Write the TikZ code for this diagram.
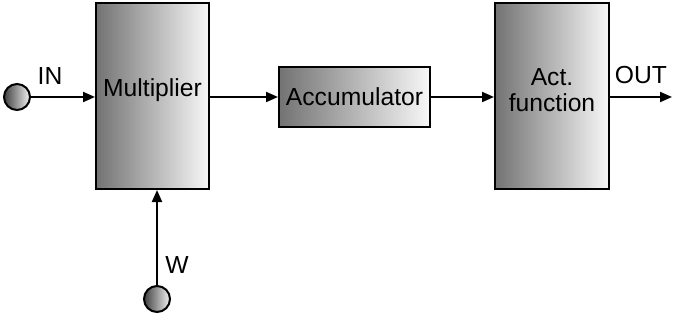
\documentclass[tikz,border=0pt]{standalone}
\usepackage{fontspec}
\setmainfont{Liberation Sans}
\usetikzlibrary{arrows.meta}
\tikzset{every picture/.style={line width=1.5pt}}
\begin{document}
\begin{tikzpicture}[x=0.75pt,y=0.75pt,yscale=-1,xscale=1,
  blk/.style={draw, left color=black!55, right color=black!3, inner sep=0pt, align=center, font=\fontsize{18.5}{20}\selectfont},
  port/.style={circle, draw, left color=black!75, right color=black!5, inner sep=0pt, minimum size=19.5pt},
  sig/.style={-{Triangle[length=9pt,width=7.5pt]}},
  lbl/.style={font=\fontsize{18.5}{20}\selectfont}]
\useasboundingbox (0,0) rectangle (673,320);

%Blocks
\node [blk, minimum width=84.75pt, minimum height=139.5pt] (mult) at (152.5,96) {\raisebox{12pt}{Multiplier}};
\node [blk, minimum width=113.25pt, minimum height=45pt] (acc) at (354.5,97) {Accumulator};
\node [blk, minimum width=85.5pt, minimum height=139.5pt] (act) at (552,96) {\raisebox{20pt}{\begin{tabular}{@{}c@{}}Act.\\function\end{tabular}}};

%Inputs
\node [port] (in) at (17,97) {};
\node [port] (w) at (157,299) {};
\coordinate (out) at (672,97);

%Connectors
\draw [sig] (in.east) -- (in.east -| mult.west);
\draw [sig] (w.north) -- (w.north |- mult.south);
\draw [sig] (mult.east |- acc.west) -- (acc.west);
\draw [sig] (acc.east) -- (acc.east -| act.west);
\draw [sig] (act.east |- out) -- (out);

% Text Node
\node [lbl] (inlbl) at (50,76) {IN};
\node [lbl] (wlbl) at (177,265) {W};
\node [lbl] (outlbl) at (641,75) {OUT};
\end{tikzpicture}
\end{document}
